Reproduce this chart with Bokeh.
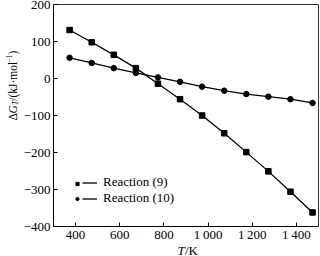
import math
from bokeh.plotting import figure
from bokeh.layouts import row, column
from bokeh.models import Range1d, FixedTicker, Label, Legend, LegendItem, ColumnDataSource
from bokeh.embed import file_html
from bokeh.resources import INLINE

# Data
T = [373, 473, 573, 673, 773, 873, 973, 1073, 1173, 1273, 1373, 1473]
g9 = [131, 98, 64, 28, -14, -56, -100, -148, -199, -251, -306, -362]
g10 = [56, 42, 28, 15, 3, -9, -22, -33, -42, -49, -56, -66]
series_names = ["Reaction (9)", "Reaction (10)"]
x_ticks = [400, 600, 800, 1000, 1200, 1400]
x_tick_labels = ["400", "600", "800", "1\u2009000", "1\u2009200", "1\u2009400"]
y_ticks = [-400, -300, -200, -100, 0, 100, 200]
y_tick_labels = ["\u2212400", "\u2212300", "\u2212200", "\u2212100", "0", "100", "200"]

FONT = "Liberation Serif"

p = figure(width=300, height=244, output_backend="svg", toolbar_location=None, title=None,
           x_range=Range1d(300, 1500), y_range=Range1d(-400, 200),
           min_border_left=28, min_border_right=2, min_border_top=4, min_border_bottom=18)
p.background_fill_color = "white"
p.border_fill_color = "white"
p.outline_line_color = "#333333"
p.outline_line_width = 1
p.xgrid.visible = False
p.ygrid.visible = False

for ax in (p.xaxis[0], p.yaxis[0]):
    ax.axis_line_color = "black"
    ax.major_tick_in = 4
    ax.major_tick_out = 0
    ax.minor_tick_in = 0
    ax.minor_tick_out = 0
    ax.major_tick_line_color = "black"
    ax.major_label_text_font = FONT
    ax.major_label_text_font_size = "13px"
    ax.major_label_text_color = "black"

p.xaxis[0].ticker = FixedTicker(ticks=x_ticks)
p.xaxis[0].major_label_overrides = {t: l for t, l in zip(x_ticks, x_tick_labels)}
p.xaxis[0].major_label_standoff = 0
p.yaxis[0].ticker = FixedTicker(ticks=y_ticks)
p.yaxis[0].major_label_overrides = {t: l for t, l in zip(y_ticks, y_tick_labels)}
p.yaxis[0].major_label_standoff = 3

src = ColumnDataSource(dict(T=T, g9=g9, g10=g10))
l9 = p.line("T", "g9", source=src, line_color="black", line_width=1.3)
m9 = p.scatter("T", "g9", source=src, marker="square", size=5.5, fill_color="black", line_color="black")
l10 = p.line("T", "g10", source=src, line_color="black", line_width=1.3)
m10 = p.scatter("T", "g10", source=src, marker="circle", size=5.5, fill_color="black", line_color="black")

# Legend: markers (left) and lines with labels (right)
common = dict(glyph_height=15, label_height=15, padding=0, margin=0, spacing=-2,
              border_line_color=None, background_fill_alpha=0)
leg_m = Legend(items=[LegendItem(label=" ", renderers=[m9]), LegendItem(label=" ", renderers=[m10])],
               location=(20, 20), glyph_width=8, label_width=0, label_standoff=0,
               label_text_font_size="1px", **common)
leg_l = Legend(items=[LegendItem(label=series_names[0], renderers=[l9]),
                      LegendItem(label=series_names[1], renderers=[l10])],
               location=(29, 20), glyph_width=15, label_standoff=6,
               label_text_font=FONT, label_text_font_size="13px",
               label_text_color="black", **common)
p.add_layout(leg_m)
p.add_layout(leg_l)


def blank(w, h):
    f = figure(width=w, height=h, output_backend="svg", toolbar_location=None, title=None,
               x_axis_type=None, y_axis_type=None, x_range=Range1d(0, 1), y_range=Range1d(0, 1),
               min_border=0, min_border_left=0, min_border_right=0,
               min_border_top=0, min_border_bottom=0)
    f.outline_line_color = None
    f.grid.visible = False
    f.background_fill_color = "white"
    f.border_fill_color = "white"
    return f


def lab(f, x, y, text, size, style="normal", angle=0.0, baseline="middle"):
    f.add_layout(Label(x=x, y=y, x_units="screen", y_units="screen", text=text,
                       text_font=FONT, text_font_size=size, text_font_style=style,
                       text_color="black", angle=angle, text_align="left",
                       text_baseline=baseline))


# y title: ΔG_T/(kJ·mol^-1), rotated, in a narrow panel on the left
yt = blank(20, 244)
a = math.pi / 2
xc = 12
y0 = 106
lab(yt, xc, y0, "\u0394", "11.5px", angle=a)
lab(yt, xc, y0 + 7.1, "G", "11.5px", "italic", angle=a)
lab(yt, xc + 3, y0 + 15.5, "T", "7.7px", "italic", angle=a)
lab(yt, xc, y0 + 19.7, "/(kJ\u00b7mol", "11.5px", angle=a)
lab(yt, xc - 4, y0 + 57.9, "\u22121", "7.7px", angle=a)
lab(yt, xc, y0 + 66.1, ")", "11.5px", angle=a)

# x title: T/K, in a thin strip below
xt = blank(320, 12)
lab(xt, 177, 6, "T", "13px", "italic")
lab(xt, 184.5, 6, "/K", "13px")

layout = column(row(yt, p, spacing=0), xt, spacing=0)
open("out.html", "w").write(file_html(layout, INLINE))
